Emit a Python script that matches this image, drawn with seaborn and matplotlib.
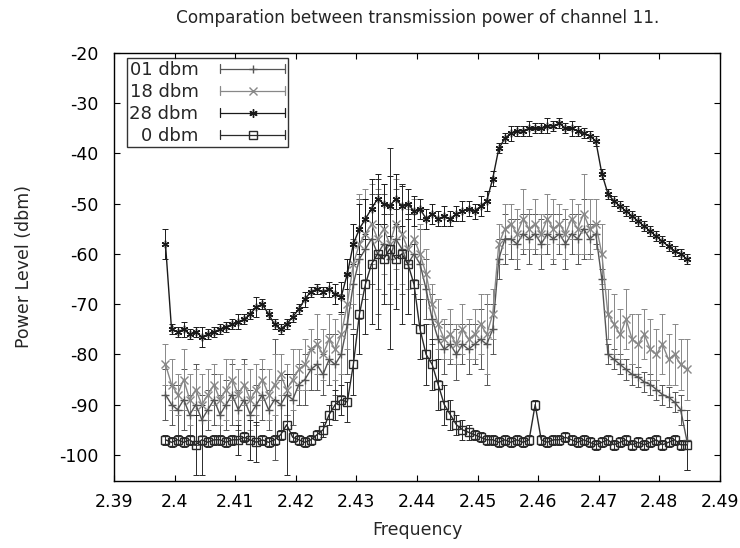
import numpy as np
import pandas as pd
import matplotlib
matplotlib.use("Agg")
import matplotlib.pyplot as plt
import seaborn as sns
from matplotlib.lines import Line2D
from matplotlib.legend_handler import HandlerBase

# Sweep grid (GHz)
freq_start, freq_step, n_samples = 2.3985, 0.001, 87
frequency = np.round(freq_start + freq_step * np.arange(n_samples), 4)

series_names = ["01 dbm", "18 dbm", "28 dbm", "0 dbm"]

# Mean power level per frequency bin (dbm)
p01 = [-88, -90, -91, -89, -92, -90, -93, -91, -89, -92,
       -90, -88, -91, -89, -92, -90, -88, -91, -89, -90,
       -88, -89, -86, -85, -83, -82, -84, -81, -82, -80,
       -74, -66, -61, -59, -57, -60, -58, -61, -57, -59,
       -62, -60, -62, -67, -73, -77, -79, -78, -80, -78,
       -79, -78, -77, -78, -75, -61, -57, -57, -58, -56,
       -57, -56, -58, -56, -57, -56, -58, -56, -57, -55,
       -57, -56, -65, -80, -81, -82, -83, -84, -84.5, -85.5,
       -86, -87, -88, -88.5, -89.5, -91, -97]
p18 = [-82, -86, -88, -85, -89, -87, -90, -88, -86, -89,
       -87, -85, -88, -86, -89, -87, -85, -88, -86, -84,
       -87, -85, -83, -82, -79, -78, -80, -77, -79, -76,
       -70, -62, -58, -56, -54, -57, -55, -58, -54, -56,
       -59, -57, -60, -64, -70, -74, -77, -76, -78, -75,
       -77, -76, -74, -76, -72, -58, -55, -54, -56, -53,
       -55, -54, -56, -53, -55, -54, -56, -53, -55, -52,
       -55, -54, -60, -72, -74, -76, -73, -77, -78, -76,
       -79, -80, -78, -81, -80, -82, -83]
p28 = [-58, -75, -75.5, -75, -76, -75.5, -76.5, -76, -75.5, -75,
       -74.5, -74, -73.5, -73, -72, -70.5, -70, -72, -74, -75,
       -74, -72.5, -71, -69, -67.5, -67, -67.5, -67, -68, -68.5,
       -64, -58, -55, -53, -51, -49, -50, -50.5, -49, -50.5,
       -50, -51.5, -51, -53, -52, -53, -52.5, -53, -52, -51.5,
       -51, -51.5, -50.5, -49.5, -45, -39, -37, -36, -35.5, -35.5,
       -35, -35, -35, -34.5, -34.5, -34, -35, -35, -35.5, -36,
       -36.5, -37.5, -44, -48, -49.5, -50.5, -51.5, -52.5, -53.5, -54.5,
       -55.5, -56.5, -57.5, -58.5, -59.5, -60, -61]
p0 = [-97, -97.5, -97, -97.5, -97, -98, -97, -97.5, -97, -97,
      -97.5, -97, -97, -96.5, -97, -97.5, -97, -97.5, -97, -96,
      -94, -96.5, -97, -97.5, -97, -96, -95, -92, -90, -89,
      -89.5, -82, -72, -66, -62, -60, -61, -59, -61, -60,
      -62, -66, -75, -80, -82, -86, -90, -92, -94, -95,
      -95.5, -96, -96.5, -97, -97, -97.5, -97, -97.5, -97, -97.5,
      -97, -90, -97, -97.5, -97, -97, -96.5, -97, -97.5, -97,
      -97.5, -98, -97.5, -97, -98, -97.5, -97, -98, -97.5, -98,
      -97.5, -97, -98, -97.5, -97, -98, -98]

# Standard deviation per bin (dbm)
e01 = [5, 4, 5, 6, 4, 8, 5, 4, 5, 4,
       5, 6, 4, 8, 5, 4, 5, 4, 12, 5,
       4, 5, 4, 5, 4, 5, 4, 5, 6, 8,
       10, 9, 12, 10, 9, 12, 10, 9, 10, 9,
       10, 8, 7, 6, 5, 8, 5, 4, 5, 4,
       5, 4, 6, 8, 5, 4, 5, 4, 5, 4,
       5, 4, 5, 4, 5, 4, 5, 4, 5, 6,
       3, 2, 2, 2, 2, 2, 2, 2, 2, 2,
       2, 2, 2, 2, 2, 3, 6]
e18 = [4, 5, 4, 6, 5, 4, 6, 5, 4, 5,
       6, 4, 5, 4, 6, 5, 4, 5, 6, 4,
       5, 6, 4, 5, 4, 6, 5, 5, 6, 8,
       9, 8, 10, 9, 8, 10, 9, 8, 9, 10,
       8, 8, 6, 5, 4, 5, 4, 5, 4, 5,
       4, 5, 6, 8, 5, 4, 5, 4, 5, 6,
       4, 5, 4, 5, 6, 4, 5, 4, 5, 8,
       6, 5, 6, 5, 6, 5, 6, 5, 6, 5,
       6, 5, 6, 5, 6, 5, 6]
e28 = [3, 1, 1, 1.5, 1, 1, 2, 1, 1, 1,
       1, 1, 1.5, 1, 1, 2, 1, 1, 1, 1,
       1, 1, 1, 1.5, 1, 1, 1, 1.5, 2, 3,
       3, 4, 5, 4, 6, 5, 4, 6, 5, 4,
       3, 3, 2, 2, 2, 1.5, 2, 1.5, 1.5, 2,
       1.5, 1.5, 2, 2, 1.5, 1, 1, 1.5, 1, 1,
       1.5, 1, 1, 1.5, 1, 1, 1, 1.5, 1, 1,
       1, 1, 1, 1, 1, 1, 1, 1, 1, 1,
       1, 1, 1, 1, 1, 1, 1]
e0 = [1, 1, 1, 1, 1, 6, 7, 1, 1, 1,
      1, 1, 3, 1, 4, 4, 1, 1, 1, 1,
      10, 1, 1, 1, 1, 1, 1.5, 2, 3, 3,
      4, 6, 8, 10, 12, 15, 9, 20, 10, 14,
      10, 8, 6, 6, 5, 5, 4, 3, 2, 2,
      1.5, 1, 1, 1, 1, 1, 1, 1, 1, 1,
      1, 1, 1, 1, 1, 1, 1, 1, 1, 1,
      1, 1, 1, 1, 1, 1, 1, 1, 1, 1,
      1, 1, 1, 1, 1, 1, 5]

values = {"01 dbm": p01, "18 dbm": p18, "28 dbm": p28, "0 dbm": p0}
errors = {"01 dbm": e01, "18 dbm": e18, "28 dbm": e28, "0 dbm": e0}

colors = {"01 dbm": "#555555", "18 dbm": "#888888", "28 dbm": "#1a1a1a", "0 dbm": "#2a2a2a"}
asterisk = (6, 2, 0)
markers = {"01 dbm": "+", "18 dbm": "x", "28 dbm": asterisk, "0 dbm": "s"}

df = pd.concat(
    [pd.DataFrame({"Frequency": frequency, "Power": values[s], "err": errors[s], "series": s})
     for s in series_names],
    ignore_index=True,
)


class ErrorKeyHandler(HandlerBase):
    """Key sample: horizontal line with end ticks and the point symbol in the middle."""

    def create_artists(self, legend, orig_handle, xdescent, ydescent,
                       width, height, fontsize, trans):
        c = orig_handle.get_color()
        y = height / 2 - ydescent
        x0, x1 = -xdescent, width - xdescent
        h = 3.0
        line = Line2D([x0, x1], [y, y], color=c, lw=0.9)
        caps = Line2D([x0, x0, np.nan, x1, x1], [y - h, y + h, np.nan, y - h, y + h],
                      color=c, lw=0.9)
        mk = Line2D([(x0 + x1) / 2], [y], marker=orig_handle.get_marker(), color=c,
                    markerfacecolor="none", markersize=6, markeredgewidth=1.0, ls="none")
        for a in (line, caps, mk):
            a.set_transform(trans)
        return [line, caps, mk]


sns.set_theme(style="ticks")
plt.rcParams["font.family"] = ["DejaVu Sans"]
plt.rcParams["axes.unicode_minus"] = False

fig = plt.figure(figsize=(7.40, 5.48), dpi=100)
ax = fig.add_axes([0.154, 0.1223, 0.819, 0.781])

for s in series_names:
    d = df[df["series"] == s]
    ax.errorbar(d["Frequency"], d["Power"], yerr=d["err"], fmt="none",
                ecolor=colors[s], elinewidth=0.7, capsize=2.4, capthick=0.7, zorder=2)
    sns.lineplot(data=d, x="Frequency", y="Power", color=colors[s], marker=markers[s],
                 estimator=None, sort=False, linewidth=1.0, markersize=5.5,
                 markerfacecolor="none", markeredgecolor=colors[s], markeredgewidth=1.0,
                 legend=False, ax=ax, zorder=3)

ax.set_xlim(2.39, 2.49)
ax.set_ylim(-105.2, -20)
ax.set_xticks(np.round(np.arange(2.39, 2.4901, 0.01), 2))
ax.set_xticklabels(["2.39", "2.4", "2.41", "2.42", "2.43", "2.44", "2.45",
                    "2.46", "2.47", "2.48", "2.49"])
ax.set_yticks(np.arange(-100, -19, 10))

ax.tick_params(direction="in", top=True, right=True, length=4, width=0.8,
               labelsize=12.5, colors="black")
ax.tick_params(axis="y", pad=11)
ax.tick_params(axis="x", pad=9)
for sp in ax.spines.values():
    sp.set_color("black")
    sp.set_linewidth(1.0)

ax.set_xlabel("Frequency", fontsize=12.5, labelpad=7)
ax.set_ylabel("Power Level (dbm)", fontsize=12.5, labelpad=19)
fig.suptitle("Comparation between transmission power of channel 11.",
             fontsize=12.2, x=0.564, y=0.983)

handles = [Line2D([], [], color=colors[s], marker=markers[s]) for s in series_names]
leg = ax.legend(handles, series_names, loc="upper left", bbox_to_anchor=(0.021, 0.988),
                handler_map={Line2D: ErrorKeyHandler()},
                markerfirst=False, fontsize=13, frameon=True, fancybox=False,
                handlelength=3.6, handleheight=0.9, borderpad=0.15, labelspacing=0.22,
                handletextpad=1.2, borderaxespad=0.0)
leg.get_frame().set_edgecolor("black")
leg.get_frame().set_linewidth(1.0)
for t in leg.get_texts():
    t.set_ha("right")

fig.savefig("out.png", dpi=100, facecolor="white")
